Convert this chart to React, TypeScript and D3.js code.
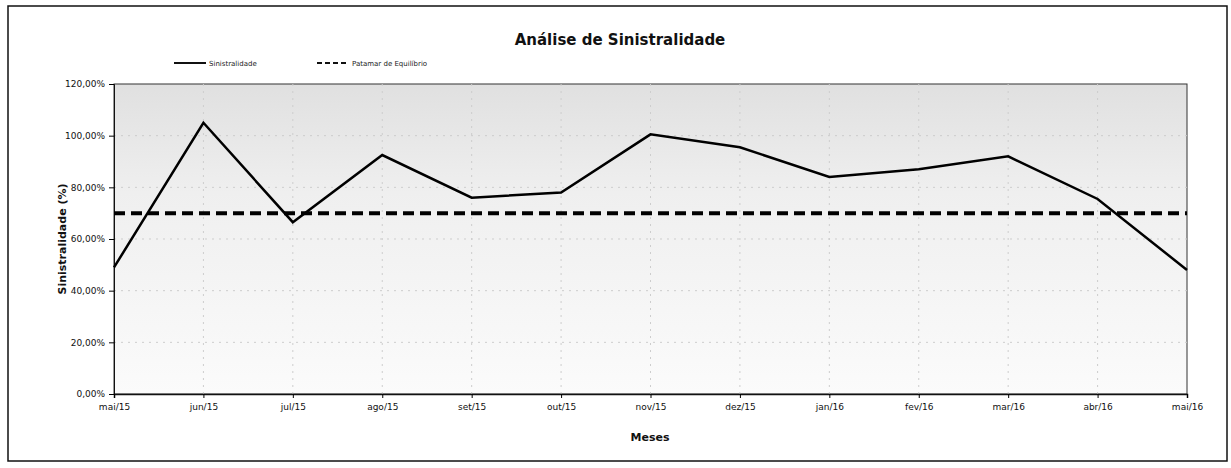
import { useEffect, useRef } from 'react'
import * as d3 from 'd3'

const months = ['mai/15', 'jun/15', 'jul/15', 'ago/15', 'set/15', 'out/15', 'nov/15', 'dez/15', 'jan/16', 'fev/16', 'mar/16', 'abr/16', 'mai/16']
const sinistralidade = [49, 105, 66.5, 92.5, 76, 78, 100.5, 95.5, 84, 87, 92, 75.5, 48]
const equilibrio = [70, 70, 70, 70, 70, 70, 70, 70, 70, 70, 70, 70, 70]
const yTicks = [0, 20, 40, 60, 80, 100, 120]

const W = 1231
const H = 468
const margin = { top: 84, right: 44, bottom: 74, left: 114 }
const font = 'Verdana, "DejaVu Sans", sans-serif'

export default function App() {
  const svgRef = useRef<SVGSVGElement>(null)

  useEffect(() => {
    if (!svgRef.current) return
    const svg = d3.select(svgRef.current)
    svg.selectAll('*').remove()

    const x = d3.scalePoint<string>()
      .domain(months)
      .range([margin.left, W - margin.right])

    const y = d3.scaleLinear()
      .domain([0, 120])
      .range([H - margin.bottom, margin.top])

    // outer frame
    svg.append('rect')
      .attr('x', 8).attr('y', 6)
      .attr('width', 1219).attr('height', 455)
      .attr('fill', '#fff')
      .attr('stroke', '#111')
      .attr('stroke-width', 1.5)

    // plot area background, greyer near the top like the scan
    const defs = svg.append('defs')
    const grad = defs.append('linearGradient')
      .attr('id', 'bg').attr('x1', 0).attr('y1', 0).attr('x2', 0).attr('y2', 1)
    grad.append('stop').attr('offset', '0%').attr('stop-color', '#e0e0e0')
    grad.append('stop').attr('offset', '35%').attr('stop-color', '#efefef')
    grad.append('stop').attr('offset', '100%').attr('stop-color', '#fbfbfb')

    svg.append('rect')
      .attr('x', margin.left)
      .attr('y', margin.top)
      .attr('width', W - margin.left - margin.right)
      .attr('height', H - margin.top - margin.bottom)
      .attr('fill', 'url(#bg)')
      .attr('stroke', '#333')
      .attr('stroke-width', 1)

    // faint gridlines
    svg.append('g')
      .selectAll('line')
      .data(yTicks.slice(1, -1))
      .enter()
      .append('line')
      .attr('x1', margin.left).attr('x2', W - margin.right)
      .attr('y1', d => y(d)).attr('y2', d => y(d))
      .attr('stroke', '#cdcdcd')
      .attr('stroke-dasharray', '2,5')

    svg.append('g')
      .selectAll('line')
      .data(months.slice(1, -1))
      .enter()
      .append('line')
      .attr('x1', d => x(d)!).attr('x2', d => x(d)!)
      .attr('y1', margin.top).attr('y2', H - margin.bottom)
      .attr('stroke', '#cdcdcd')
      .attr('stroke-dasharray', '2,5')

    // axes
    const yAxis = d3.axisLeft(y)
      .tickValues(yTicks)
      .tickSize(5)
      .tickFormat(d => `${(+d).toFixed(2).replace('.', ',')}%`)
    const gy = svg.append('g')
      .attr('transform', `translate(${margin.left},0)`)
      .call(yAxis)
    gy.select('.domain').attr('stroke', '#111')
    gy.selectAll('text')
      .attr('font-family', font)
      .attr('font-size', 9)
      .attr('fill', '#111')
      .attr('dx', -1)

    const xAxis = d3.axisBottom(x).tickSize(4).tickPadding(6)
    const gx = svg.append('g')
      .attr('transform', `translate(0,${H - margin.bottom})`)
      .call(xAxis)
    gx.select('.domain').attr('stroke', '#111').attr('stroke-width', 1.5)
    gx.selectAll('text')
      .attr('font-family', font)
      .attr('font-size', 9)
      .attr('fill', '#111')

    // lines
    const line = d3.line<number>()
      .x((_, i) => x(months[i])!)
      .y(d => y(d))

    svg.append('path')
      .datum(equilibrio)
      .attr('d', line)
      .attr('fill', 'none')
      .attr('stroke', '#000')
      .attr('stroke-width', 4)
      .attr('stroke-dasharray', '11,6')

    svg.append('path')
      .datum(sinistralidade)
      .attr('d', line)
      .attr('fill', 'none')
      .attr('stroke', '#000')
      .attr('stroke-width', 2.5)
      .attr('stroke-linejoin', 'miter')

    // title
    svg.append('text')
      .attr('x', 620).attr('y', 45)
      .attr('text-anchor', 'middle')
      .attr('font-family', font)
      .attr('font-weight', 'bold')
      .attr('font-size', 15)
      .attr('fill', '#111')
      .text('Análise de Sinistralidade')

    // axis titles
    svg.append('text')
      .attr('transform', `translate(66,${(margin.top + H - margin.bottom) / 2}) rotate(-90)`)
      .attr('text-anchor', 'middle')
      .attr('font-family', font)
      .attr('font-weight', 'bold')
      .attr('font-size', 11)
      .attr('fill', '#111')
      .text('Sinistralidade (%)')

    svg.append('text')
      .attr('x', 650).attr('y', 441)
      .attr('text-anchor', 'middle')
      .attr('font-family', font)
      .attr('font-weight', 'bold')
      .attr('font-size', 11)
      .attr('fill', '#111')
      .text('Meses')

    // legend
    const legend = [
      { label: 'Sinistralidade', dash: null, x: 174, w: 2 },
      { label: 'Patamar de Equilíbrio', dash: '5,3', x: 317, w: 2 }
    ]
    const lg = svg.append('g')
    lg.selectAll('line')
      .data(legend)
      .enter()
      .append('line')
      .attr('x1', d => d.x).attr('x2', d => d.x + 32)
      .attr('y1', 63).attr('y2', 63)
      .attr('stroke', '#111')
      .attr('stroke-width', d => d.w)
      .attr('stroke-dasharray', d => d.dash)
    lg.selectAll('text')
      .data(legend)
      .enter()
      .append('text')
      .attr('x', d => d.x + 35)
      .attr('y', 66)
      .attr('font-family', font)
      .attr('font-size', 7)
      .attr('fill', '#222')
      .text(d => d.label)
  }, [])

  return (
    <svg
      ref={svgRef}
      width={W}
      height={H}
      style={{ position: 'absolute', left: 0, top: 0, background: '#fff' }}
    />
  )
}
